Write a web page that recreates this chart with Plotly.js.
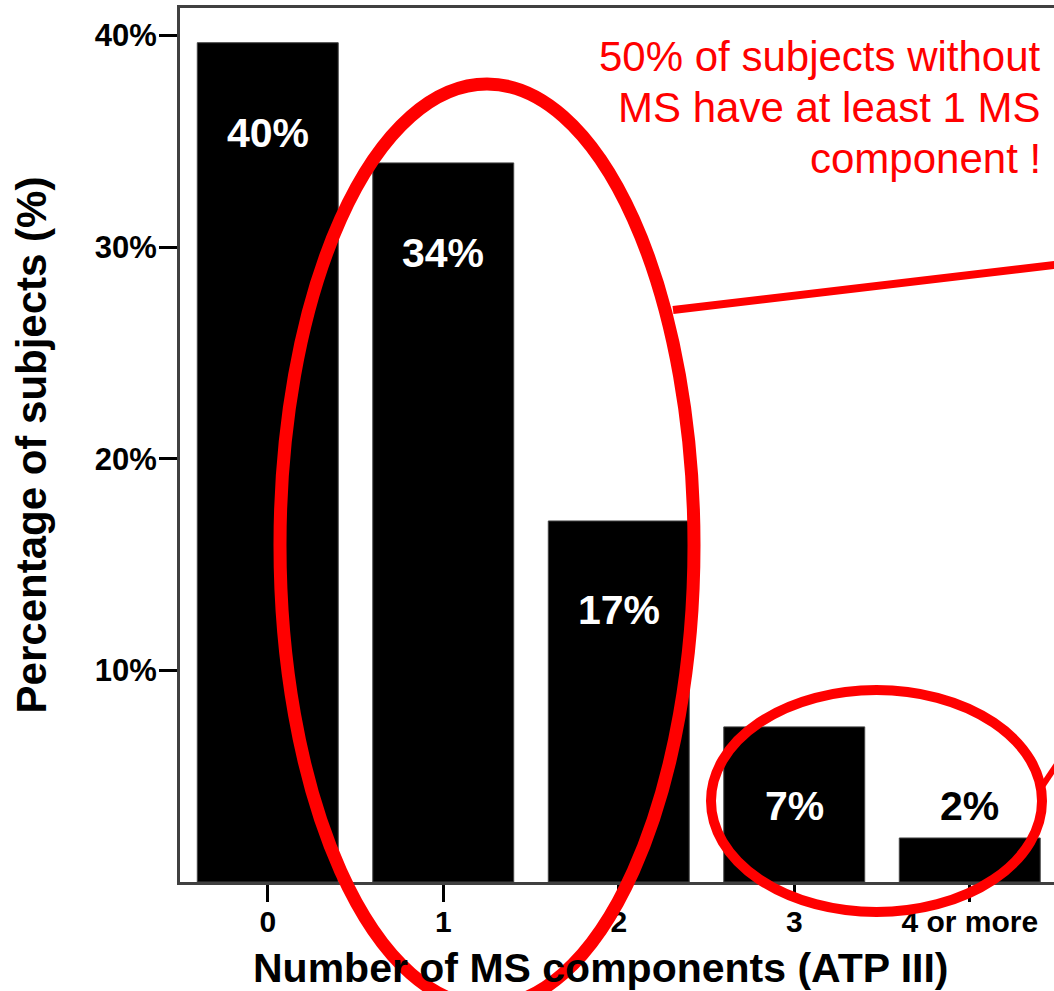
<!DOCTYPE html>
<html>
<head>
<meta charset="utf-8">
<script src="https://cdn.plot.ly/plotly-3.0.1.min.js"></script>
<style>html,body{margin:0;padding:0;background:#fff;}#chart{width:1054px;height:991px;}</style>
</head>
<body>
<div id="chart"></div>
<script>
// Data
var categories = ["0", "1", "2", "3", "4 or more"];
var percentages = [39.66, 33.98, 17.06, 7.33, 2.08];
var barLabels = ["40%", "34%", "17%", "7%", "2%"];
var yTickVals = [10, 20, 30, 40];
var yTickText = ["10%", "20%", "30%", "40%"];
var noteLines = ["50% of subjects without", "MS have at least 1 MS", "component !"];
var xTitle = "Number of MS components (ATP III)";
var yTitle = "Percentage of subjects (%)";

var FONT = "Arial, 'Liberation Sans', sans-serif";

// pixel helpers for paper-referenced decorations (plot area: x 180..1054, y 8..882)
function px(x) { return (x - 180) / 874; }
function py(y) { return (882 - y) / 874; }

var trace = {
  type: "bar",
  x: categories,
  y: percentages,
  marker: { color: "#000000", line: { color: "#444444", width: 1 } },
  hoverinfo: "x+y",
  showlegend: false
};

// label offsets (style only)
var labelShift = [-90, -90, -89, -79, 32];
var labelColor = ["#ffffff", "#ffffff", "#ffffff", "#ffffff", "#000000"];

var annotations = [];
for (var i = 0; i < categories.length; i++) {
  annotations.push({
    x: categories[i], y: percentages[i], xref: "x", yref: "y",
    text: barLabels[i], showarrow: false, yshift: labelShift[i],
    xanchor: "center", yanchor: "middle",
    font: { family: FONT, size: 41, color: labelColor[i], weight: "bold" }
  });
}
var noteY = [57, 108, 158];
for (var j = 0; j < noteLines.length; j++) {
  annotations.push({
    x: px(1043), y: py(noteY[j]), xref: "paper", yref: "paper",
    text: noteLines[j], showarrow: false, xanchor: "right", yanchor: "middle",
    font: { family: FONT, size: 42, color: "#ff0000" }
  });
}
// x-axis title (placed as annotation so it can sit left of the plot centre like the original)
annotations.push({
  x: px(601), y: py(968), xref: "paper", yref: "paper",
  text: xTitle, showarrow: false, xanchor: "center", yanchor: "middle",
  font: { family: FONT, size: 41, color: "#000000", weight: "bold" }
});

var shapes = [
  { type: "circle", xref: "paper", yref: "paper", layer: "above",
    x0: px(280), x1: px(694), y0: py(84), y1: py(1006),
    line: { color: "#ff0000", width: 13 }, fillcolor: "rgba(0,0,0,0)" },
  { type: "circle", xref: "paper", yref: "paper", layer: "above",
    x0: px(711), x1: px(1042), y0: py(690), y1: py(912),
    line: { color: "#ff0000", width: 10 }, fillcolor: "rgba(0,0,0,0)" },
  { type: "line", xref: "paper", yref: "paper", layer: "above",
    x0: px(673), y0: py(310), x1: px(1100), y1: py(259.6),
    line: { color: "#ff0000", width: 8 } },
  { type: "line", xref: "paper", yref: "paper", layer: "above",
    x0: px(1041), y0: py(788), x1: px(1070), y1: py(745),
    line: { color: "#ff0000", width: 6 } }
];

var layout = {
  width: 1054, height: 991,
  margin: { l: 180, r: 0, t: 8, b: 109, pad: 0 },
  paper_bgcolor: "#ffffff", plot_bgcolor: "#ffffff",
  bargap: 0.197,
  font: { family: FONT, color: "#000000" },
  xaxis: {
    type: "category",
    range: [-0.5, 4.48],
    showline: true, linecolor: "#404040", linewidth: 3, mirror: true,
    ticks: "outside", ticklen: 17, tickwidth: 3, tickcolor: "#000000",
    ticklabelstandoff: -6,
    tickfont: { family: FONT, size: 30, color: "#000000", weight: "bold" },
    showgrid: false, zeroline: false, layer: "below traces",
    fixedrange: true
  },
  yaxis: {
    range: [0, 41.3],
    tickvals: yTickVals, ticktext: yTickText,
    showline: true, linecolor: "#404040", linewidth: 3, mirror: false,
    ticks: "outside", ticklen: 18, tickwidth: 3, tickcolor: "#000000",
    ticklabelstandoff: -4,
    tickfont: { family: FONT, size: 31, color: "#000000", weight: "bold" },
    showgrid: false, zeroline: false, layer: "below traces",
    title: { text: yTitle, standoff: 36,
      font: { family: FONT, size: 42, color: "#000000", weight: "bold" } },
    fixedrange: true
  },
  annotations: annotations,
  shapes: shapes,
  showlegend: false
};

Plotly.newPlot("chart", [trace], layout, { displayModeBar: false, staticPlot: true });
</script>
</body>
</html>
